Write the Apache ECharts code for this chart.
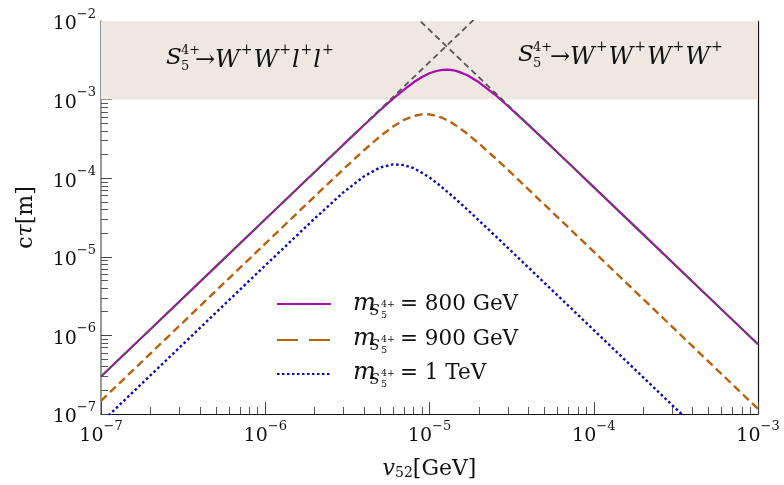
<!DOCTYPE html>
<html>
<head>
<meta charset="utf-8">
<script src="https://cdn.jsdelivr.net/npm/echarts@6/dist/echarts.min.js"></script>
<style>html,body{margin:0;padding:0;background:#fff;}#c{width:784px;height:485px;}</style>
</head>
<body>
<div id="c"></div>
<script>
// ---- data ----
const vev = [1e-7, 2e-7, 5e-7, 1e-6, 2e-6, 3e-6, 4e-6, 5e-6, 6e-6, 7e-6, 8e-6, 9e-6, 1e-5, 1.1e-5, 1.2e-5, 1.3e-5, 1.4e-5, 1.5e-5, 1.7e-5, 2e-5, 2.5e-5, 3e-5, 4e-5, 5e-5, 7e-5, 1e-4, 2e-4, 5e-4, 1e-3];
const ctau800 = [3.0e-7, 1.2e-6, 7.5e-6, 3.0e-5, 1.2e-4, 2.69e-4, 4.75e-4, 7.32e-4, 1.03e-3, 1.34e-3, 1.66e-3, 1.94e-3, 2.16e-3, 2.31e-3, 2.39e-3, 2.40e-3, 2.36e-3, 2.27e-3, 2.04e-3, 1.66e-3, 1.16e-3, 8.29e-4, 4.77e-4, 3.07e-4, 1.57e-4, 7.7e-5, 1.93e-5, 3.08e-6, 7.7e-7];
const ctau900 = [1.47e-7, 5.88e-7, 3.68e-6, 1.47e-5, 5.87e-5, 1.31e-4, 2.28e-4, 3.41e-4, 4.55e-4, 5.52e-4, 6.19e-4, 6.50e-4, 6.48e-4, 6.23e-4, 5.84e-4, 5.38e-4, 4.91e-4, 4.46e-4, 3.67e-4, 2.76e-4, 1.82e-4, 1.28e-4, 7.23e-5, 4.63e-5, 2.37e-5, 1.16e-5, 2.9e-6, 4.64e-7, 1.16e-7];
const ctau1000 = [7.76e-8, 3.10e-7, 1.94e-6, 7.76e-6, 3.07e-5, 6.63e-5, 1.06e-4, 1.37e-4, 1.50e-4, 1.47e-4, 1.34e-4, 1.17e-4, 1.02e-4, 8.77e-5, 7.57e-5, 6.58e-5, 5.74e-5, 5.05e-5, 3.98e-5, 2.90e-5, 1.87e-5, 1.30e-5, 7.31e-6, 4.68e-6, 2.39e-6, 1.17e-6, 2.93e-7, 4.68e-8, 1.17e-8];
const asymLeftX = [1e-7, 2e-5];
const asymLeftY = [3.0e-7, 1.2e-2];
const asymRightX = [8e-6, 1e-3];
const asymRightY = [1.2e-2, 7.7e-7];
const bandY = [1e-3, 1e-2];
const seriesNames = ['m800', 'm900', 'm1000'];
const legendMass = ['800 GeV', '900 GeV', '1 TeV'];
const xMajor = [1e-7, 1e-6, 1e-5, 1e-4, 1e-3];
const yMajor = [1e-7, 1e-6, 1e-5, 1e-4, 1e-3, 1e-2];
const mantissas = [2, 3, 4, 5, 6, 7, 8, 9];

// ---- helpers ----
const pairs = (xs, ys) => xs.map((x, i) => [x, ys[i]]);
const minorOf = (majors) => {
  const out = [];
  majors.slice(0, -1).forEach(m => mantissas.forEach(k => out.push(+(m * k).toPrecision(3))));
  return out;
};
const FONT = 'DejaVu Serif';
const expFmt = v => '{b|10}{s|\u2212' + Math.abs(Math.round(Math.log10(v))) + '}';
const tickRich = {
  b: { fontFamily: FONT, fontSize: 19, lineHeight: 26, verticalAlign: 'bottom', color: '#111' },
  s: { fontFamily: FONT, fontSize: 13, lineHeight: 14, verticalAlign: 'top', color: '#111' }
};

const COLORS = { p: '#a80aac', o: '#b8620e', b: '#0c0cb4', g: '#555555', band: '#efe7e1' };
const lineStyles = [
  { color: COLORS.p, width: 2.2, type: 'solid' },
  { color: COLORS.o, width: 2.4, type: [8, 4.5] },
  { color: COLORS.b, width: 2.4, type: [2.6, 2.6] }
];
const legendDash = [null, [21, 11], [2.5, 2.5]];

const chart = echarts.init(document.getElementById('c'), null, { renderer: 'canvas' });

const grid = { left: 101, right: 26, top: 21, bottom: 70 };

const baseLog = { type: 'log', logBase: 10, gridIndex: 0 };

const option = {
  animation: false,
  backgroundColor: '#fff',
  grid: grid,
  xAxis: [
    Object.assign({}, baseLog, {
      min: 1e-7, max: 1e-3, position: 'bottom',
      axisLine: { show: true, lineStyle: { color: '#111', width: 1.2 } },
      axisTick: { show: true, inside: true, length: 12, customValues: xMajor, lineStyle: { color: '#444', width: 1 } },
      axisLabel: { show: true, customValues: xMajor, margin: 6, formatter: expFmt, rich: tickRich },
      splitLine: { show: false },
      name: '{i|v}{sub|52}{n|[GeV]}',
      nameLocation: 'middle', nameGap: 38,
      nameTextStyle: {
        rich: {
          i: { fontFamily: FONT, fontStyle: 'italic', fontSize: 22, color: '#111', lineHeight: 28, verticalAlign: 'bottom' },
          sub: { fontFamily: FONT, fontSize: 14, color: '#111', lineHeight: 20, verticalAlign: 'bottom' },
          n: { fontFamily: FONT, fontSize: 22, color: '#111', lineHeight: 28, verticalAlign: 'bottom' }
        }
      }
    }),
    Object.assign({}, baseLog, {
      min: 1e-7, max: 1e-3, position: 'bottom',
      axisLine: { show: false },
      axisTick: { show: true, inside: true, length: 7, customValues: minorOf(xMajor), lineStyle: { color: '#555', width: 1 } },
      axisLabel: { show: false }, splitLine: { show: false }
    }),
    Object.assign({}, baseLog, {
      min: 1e-7, max: 1e-3, position: 'top',
      axisLine: { show: true, lineStyle: { color: '#666', width: 1.2 } },
      axisTick: { show: false }, axisLabel: { show: false }, splitLine: { show: false }
    })
  ],
  yAxis: [
    Object.assign({}, baseLog, {
      min: 1e-7, max: 1e-2, position: 'left',
      axisLine: { show: true, lineStyle: { color: '#777', width: 1.5 } },
      axisTick: { show: true, inside: true, length: 11, customValues: yMajor, lineStyle: { color: '#444', width: 1 } },
      axisLabel: { show: true, customValues: yMajor, margin: 5, formatter: expFmt, rich: tickRich },
      splitLine: { show: false },
      name: '{n|c}{i|\u03c4}{n|[m]}',
      nameLocation: 'middle', nameGap: 64, nameRotate: 90,
      nameTextStyle: {
        rich: {
          i: { fontFamily: FONT, fontStyle: 'italic', fontSize: 22, color: '#111' },
          n: { fontFamily: FONT, fontSize: 22, color: '#111' }
        }
      }
    }),
    Object.assign({}, baseLog, {
      min: 1e-7, max: 1e-2, position: 'left',
      axisLine: { show: false },
      axisTick: { show: true, inside: true, length: 7, customValues: minorOf(yMajor), lineStyle: { color: '#555', width: 1 } },
      axisLabel: { show: false }, splitLine: { show: false }
    }),
    Object.assign({}, baseLog, {
      min: 1e-7, max: 1e-2, position: 'right',
      axisLine: { show: true, lineStyle: { color: '#111', width: 1.2 } },
      axisTick: { show: false }, axisLabel: { show: false }, splitLine: { show: false }
    })
  ],
  series: [
    {
      name: 'band', type: 'line', xAxisIndex: 0, yAxisIndex: 0, data: [], silent: true, z: 0,
      markArea: {
        silent: true,
        itemStyle: { color: COLORS.band, opacity: 1 },
        data: [[{ yAxis: bandY[0] }, { yAxis: bandY[1] }]]
      }
    },
    {
      name: seriesNames[2], type: 'line', data: pairs(vev, ctau1000), showSymbol: false, symbol: 'none', clip: true, z: 3,
      lineStyle: lineStyles[2], itemStyle: { color: COLORS.b }
    },
    {
      name: seriesNames[1], type: 'line', data: pairs(vev, ctau900), showSymbol: false, symbol: 'none', clip: true, z: 3,
      lineStyle: lineStyles[1], itemStyle: { color: COLORS.o }
    },
    {
      name: seriesNames[0], type: 'line', data: pairs(vev, ctau800), showSymbol: false, symbol: 'none', clip: true, z: 3,
      lineStyle: lineStyles[0], itemStyle: { color: COLORS.p }
    },
    {
      name: 'asymL', type: 'line', data: pairs(asymLeftX, asymLeftY), showSymbol: false, symbol: 'none', clip: true, z: 4,
      lineStyle: { color: COLORS.g, width: 1.8, type: [6, 4] }
    },
    {
      name: 'asymR', type: 'line', data: pairs(asymRightX, asymRightY), showSymbol: false, symbol: 'none', clip: true, z: 4,
      lineStyle: { color: COLORS.g, width: 1.8, type: [6, 4] }
    }
  ]
};

// ---- text annotations (band labels + legend) ----
// b = baseline; text placed with middle alignment at (baseline - 0.3*size)
const T = (text, x, b, size, italic) => ({
  type: 'text', x: x, y: b - 0.3 * size, z: 100, silent: true,
  style: { text: text, fontFamily: FONT, fontSize: size, fontStyle: italic ? 'italic' : 'normal', fill: '#111', verticalAlign: 'middle', align: 'left' }
});
const arrowRich = {
  a: { fontFamily: FONT, fontStyle: 'italic', fontSize: 24, lineHeight: 30, verticalAlign: 'bottom', color: '#111' },
  r: { fontFamily: FONT, fontSize: 24, lineHeight: 30, verticalAlign: 'bottom', color: '#111' },
  p: { fontFamily: FONT, fontSize: 14, lineHeight: 18, verticalAlign: 'top', color: '#111', padding: [0, 1, 0, 1] }
};
// rich line: baseline ≈ top + 22
const richT = (text, x, b) => ({
  type: 'text', x: x, y: b - 22, z: 100, silent: true,
  style: { text: text, rich: arrowRich, verticalAlign: 'top', align: 'left', fill: '#111' }
});
const graphics = [];
// left band label  S5^{4+} -> W+ W+ l+ l+
graphics.push(T('S', 166, 65, 23, true));
graphics.push(T('4+', 181, 55, 13, false));
graphics.push(T('5', 181, 71, 13, false));
graphics.push(richT('{r|\u2192}{a|W}{p|+}{a|W}{p|+}{a|l}{p|+}{a|l}{p|+}', 195, 65));
// right band label
graphics.push(T('S', 518, 62, 23, true));
graphics.push(T('4+', 533, 52, 13, false));
graphics.push(T('5', 533, 68, 13, false));
graphics.push(richT('{r|\u2192}{a|W}{p|+}{a|W}{p|+}{a|W}{p|+}{a|W}{p|+}', 550, 62));
// legend: sample lines + labels
const legendLineY = [304, 340, 374];
const legendBase = [311, 346, 380];
legendMass.forEach((mass, i) => {
  graphics.push({
    type: 'line', z: 100, silent: true,
    shape: { x1: 277, y1: legendLineY[i], x2: 331, y2: legendLineY[i] },
    style: { stroke: lineStyles[i].color, lineWidth: lineStyles[i].width - 0.2, lineDash: legendDash[i] }
  });
  const b = legendBase[i];
  graphics.push(T('m', 353, b, 24, true));
  graphics.push(T('S', 370, b + 5, 14, true));
  graphics.push(T('4+', 381, b - 4, 9.5, false));
  graphics.push(T('5', 381, b + 7, 9.5, false));
  graphics.push(T('= ' + mass, 400, b, 21.5, false));
});
option.graphic = graphics;

chart.setOption(option);
</script>
</body>
</html>
